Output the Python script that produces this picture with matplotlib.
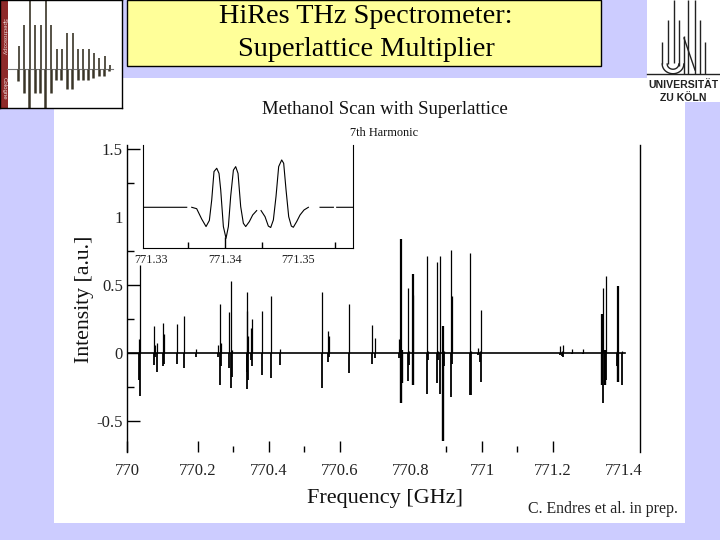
import matplotlib
matplotlib.use("Agg")
import matplotlib.pyplot as plt
from matplotlib.patches import Rectangle
from matplotlib.ticker import FixedLocator, FixedFormatter
import numpy as np

plt.rcParams['font.family'] = ['Liberation Serif', 'DejaVu Serif']

W, H = 720, 540

# --- main spectrum: line position (GHz), upper and lower excursion (a.u.)
line_freq = [770.035, 770.0376, 770.077, 770.079, 770.084, 770.102, 770.105, 770.142, 770.161, 770.195,
             770.255, 770.262, 770.265, 770.288, 770.294, 770.297, 770.337, 770.339, 770.342, 770.350,
             770.353, 770.381, 770.4065, 770.432, 770.550, 770.567, 770.569, 770.624, 770.691, 770.699,
             770.766, 770.771, 770.774, 770.792, 770.795, 770.805, 770.807, 770.846, 770.849, 770.872,
             770.875, 770.883, 770.889, 770.893, 770.913, 770.916, 770.966, 770.970, 770.988, 770.993,
             770.996, 771.220, 771.225, 771.229, 771.254, 771.285, 771.339, 771.342, 771.346, 771.350,
             771.380, 771.382, 771.394]
line_up = [0.10, 0.645, 0.20, 0.056, 0.07, 0.215, 0.135, 0.21, 0.27, 0.027,
           0.056, 0.36, 0.07, 0.30, 0.527, 0.02, 0.306, 0.449, 0.12, 0.18,
           0.25, 0.31, 0.417, 0.027, 0.446, 0.16, 0.12, 0.358, 0.203, 0.105,
           0.098, 0.833, 0.02, 0.473, 0.01, 0.424, 0.578, 0.71, 0.01, 0.667,
           0.01, 0.71, 0.196, 0.01, 0.755, 0.417, 0.73, 0.01, 0.032, 0.01,
           0.314, 0.05, 0.01, 0.056, 0.025, 0.025, 0.284, 0.473, 0.02, 0.564,
           0.01, 0.49, 0.01]
line_down = [-0.20, -0.32, -0.09, -0.03, -0.14, -0.10, -0.08, -0.083, -0.11, -0.035,
             -0.035, -0.24, -0.10, -0.115, -0.257, -0.18, -0.14, -0.267, -0.20, -0.05,
             -0.10, -0.164, -0.184, -0.09, -0.256, -0.066, -0.03, -0.147, -0.083, -0.042,
             -0.042, -0.368, -0.22, -0.206, -0.09, -0.225, -0.238, -0.304, -0.05, -0.225,
             -0.05, -0.304, -0.647, -0.10, -0.324, -0.08, -0.311, -0.311, -0.02, -0.07,
             -0.213, -0.02, -0.025, -0.03, -0.012, -0.012, -0.238, -0.373, -0.238, -0.20,
             -0.10, -0.218, -0.238]
base_freq = [770.0, 771.403]
base_val = [0.0, 0.0]
thick_lines = [770.771, 770.774, 770.807, 771.339, 771.346, 771.382, 770.889]

x_major = [770, 770.2, 770.4, 770.6, 770.8, 771, 771.2, 771.4]
x_labels = ['770', '770.2', '770.4', '770.6', '770.8', '771', '771.2', '771.4']
x_hidden = [770.8, 771.4]
x_minor = [770.3, 770.5, 770.9, 771.1]
y_major = [-0.5, 0, 0.5, 1, 1.5]
y_labels = ['-0.5', '0', '0.5', '1', '1.5']
y_minor = [-0.25, 0.25, 0.75, 1.25]

# --- inset trace (NaN marks the breaks of the printed line)
inset_freq = [771.32888, 771.33485, np.nan, 771.33553, 771.3362, 771.33688, 771.33747, 771.33792, 771.33824,
              771.33855, 771.33892, 771.33923, 771.33946, 771.33982, 771.34018, 771.3405, 771.34081, 771.34118,
              771.34149, 771.34181, 771.34217, 771.34253, 771.34285, 771.34334, 771.3438, 771.34434, np.nan,
              771.34493, 771.34547, 771.34592, 771.34624, 771.3466, 771.34696, 771.34732, 771.34773, 771.348,
              771.34832, 771.34868, 771.34904, 771.34931, 771.34976, 771.35022, 771.35076, 771.35135, np.nan,
              771.35293, 771.35474, np.nan, 771.35519, 771.35736]
inset_val = [0, 0, np.nan, 0, -0.03, -0.25, -0.41, -0.28, 0.156,
             0.76, 0.83, 0.72, 0.37, -0.41, -0.66, -0.41, 0.23, 0.79,
             0.865, 0.72, 0.014, -0.34, -0.41, -0.305, -0.163, -0.07, np.nan,
             -0.07, -0.2, -0.4, -0.43, -0.27, 0.23, 0.865, 1.007, 0.936,
             0.37, -0.2, -0.4, -0.425, -0.305, -0.163, -0.057, 0, np.nan,
             0, 0, np.nan, 0, 0]
inset_major = [771.33, 771.34, 771.35]
inset_labels = ['771.33', '771.34', '771.35']
inset_minor = [771.335, 771.345, 771.355]

# --- small spectrum in the corner logo
logo_x = [19, 24.3, 30, 35.3, 40.7, 46, 51.3, 56.7, 62, 67.3, 73, 78.3, 83.3, 88.7, 94, 99.3, 104.7, 110]
logo_up = [23, 44, 68, 44, 44, 68, 44, 20, 20, 36, 36, 20, 20, 20, 16, 11, 13, 4]
logo_down = [12, 24, 39, 24, 24, 39, 24, 11, 11, 20, 20, 11, 11, 11, 9, 7, 7, 2]

LAV = '#CCCCFF'
fig = plt.figure(figsize=(7.2, 5.4), dpi=100, facecolor=LAV)


def box(l, t, r, b):
    return [l / W, 1 - b / H, (r - l) / W, (b - t) / H]


# page layer in pixel coordinates
pg = fig.add_axes([0, 0, 1, 1], zorder=0)
pg.set_xlim(0, W)
pg.set_ylim(H, 0)
pg.axis('off')
pg.add_patch(Rectangle((54, 78), 631, 445, fc='white', ec='none'))
pg.add_patch(Rectangle((647, 0), 73, 102, fc='white', ec='none'))
pg.add_patch(Rectangle((126.5, 0), 474.5, 66, fc='#FFFF99', ec='black', lw=1))
pg.text(366, 16.5, 'HiRes THz Spectrometer:', ha='center', va='center', fontsize=20.3)
pg.text(366, 49.5, 'Superlattice Multiplier', ha='center', va='center', fontsize=20.3)
pg.text(384.5, 110, 'Methanol Scan with Superlattice', ha='center', va='center', fontsize=13.5, color='#111111')
pg.text(384, 133, '7th Harmonic', ha='center', va='center', fontsize=8.8, color='#111111')
pg.text(602.5, 509, 'C. Endres et al. in prep.', ha='center', va='center', fontsize=11.4, color='#222222')
pg.text(385, 499, 'Frequency [GHz]', ha='center', va='center', fontsize=16, color='#111111')
pg.text(85, 299, 'Intensity [a.u.]', ha='center', va='center', rotation=90, fontsize=15.7, color='#111111')

# Cologne logo, drawn as strokes
pg.plot([647, 720], [74, 74], color='#222222', lw=1)
for x, y0, y1 in [(662, 42, 64), (667.7, 20, 64), (673.7, 0, 63), (679.3, 20, 66), (683.7, 36, 74),
                  (688.3, 0, 74), (695, 0, 74), (700, 20, 74), (705.3, 42, 74)]:
    pg.plot([x, x], [y0, y1], color='#222222', lw=1, solid_capstyle='butt')
th = np.linspace(0, np.pi, 30)
for r, cy in [(10.8, 64), (5.8, 64)]:
    pg.plot(673 + r * np.cos(th), cy + r * np.sin(th) * 0.9, color='#222222', lw=1)
pg.plot([684, 695], [38, 70], color='#222222', lw=1)
pg.text(683.5, 85, 'UNIVERSITÄT', ha='center', va='center', family='Liberation Sans',
        fontweight='bold', fontsize=7.6, color='#222222')
pg.text(683.5, 98, 'ZU KÖLN', ha='center', va='center', family='Liberation Sans',
        fontweight='bold', fontsize=7.6, color='#222222')

# corner logo
lg = fig.add_axes(box(0, 0, 121.5, 108), zorder=2)
lg.set_xlim(0, 121.5)
lg.set_ylim(-38.7, 69.3)
lg.set_xticks([])
lg.set_yticks([])
for s in lg.spines.values():
    s.set_linewidth(1)
lg.axhline(0, xmin=0.06, xmax=0.93, color='#777777', lw=0.8)
lg.vlines(logo_x, 0, logo_up, color='#3a3528', lw=1.2)
lg.vlines(np.array(logo_x) - 0.6, [-d for d in logo_down], 0, color='#3a3528', lw=1.8)
lg.add_patch(Rectangle((0, -38.7), 8, 108, fc='#8E2A2A', ec='none'))
lg.text(4, 33, 'Spectroscopy', rotation=270, ha='center', va='center', color='#F0E0E0',
        fontsize=4.4, family='Liberation Sans')
lg.text(4, -19, 'Cologne', rotation=270, ha='center', va='center', color='#F0E0E0',
        fontsize=4.4, family='Liberation Sans')

# main axes
ax = fig.add_axes(box(127, 145, 640, 452), zorder=1)
ax.patch.set_alpha(0)
ax.set_xlim(770, 770 + (640 - 127) / 355)
ax.set_ylim(-0.730, 1.527)
for f, up, dn in zip(line_freq, line_up, line_down):
    heavy = f in thick_lines
    ax.plot([f, f], [0, up], color='black', lw=1.6 if heavy else 0.9, solid_capstyle='butt')
    ax.plot([f, f], [dn, 0], color='black', lw=1.7 if heavy else 1.3, solid_capstyle='butt')
ax.plot(base_freq, base_val, color='black', lw=1.2)
ax.spines['top'].set_visible(False)
ax.spines['bottom'].set_visible(False)
ax.spines['left'].set_linewidth(1.0)
ax.spines['right'].set_linewidth(1.0)
ax.xaxis.set_major_locator(FixedLocator(x_major))
ax.xaxis.set_major_formatter(FixedFormatter(x_labels))
ax.xaxis.set_minor_locator(FixedLocator(x_minor))
ax.yaxis.set_major_locator(FixedLocator(y_major))
ax.yaxis.set_major_formatter(FixedFormatter(y_labels))
ax.yaxis.set_minor_locator(FixedLocator(y_minor))
ax.tick_params(axis='x', which='major', direction='in', length=8, width=1, labelsize=12,
               pad=8, labelcolor='#222222')
ax.tick_params(axis='x', which='minor', direction='in', length=4.5, width=1)
ax.tick_params(axis='y', which='major', direction='in', length=9, width=1, labelsize=12,
               pad=3, labelcolor='#222222')
ax.tick_params(axis='y', which='minor', direction='in', length=5, width=1)
for t, v in zip(ax.xaxis.get_major_ticks(), x_major):
    if v in x_hidden:
        t.tick1line.set_visible(False)
for t, v in zip(ax.yaxis.get_major_ticks(), y_major):
    if v == 1:
        t.tick1line.set_visible(False)

# inset
ins = fig.add_axes(box(142.7, 145, 352.7, 248), zorder=3)
ins.set_xlim(771.32888, 771.35736)
ins.set_ylim(-0.866, 1.325)
ins.plot(inset_freq, inset_val, color='black', lw=0.8)
ins.spines['top'].set_visible(False)
ins.xaxis.set_major_locator(FixedLocator(inset_major))
ins.xaxis.set_major_formatter(FixedFormatter(inset_labels))
ins.xaxis.set_minor_locator(FixedLocator(inset_minor))
ins.set_yticks([])
ins.tick_params(axis='x', which='major', direction='in', length=8, width=1, labelsize=8.8,
                pad=4, labelcolor='#222222')
ins.tick_params(axis='x', which='minor', direction='in', length=4.5, width=1)
for t, v in zip(ins.xaxis.get_major_ticks(), inset_major):
    if v != 771.34:
        t.tick1line.set_visible(False)

fig.savefig('out.png', dpi=100, facecolor=LAV)
